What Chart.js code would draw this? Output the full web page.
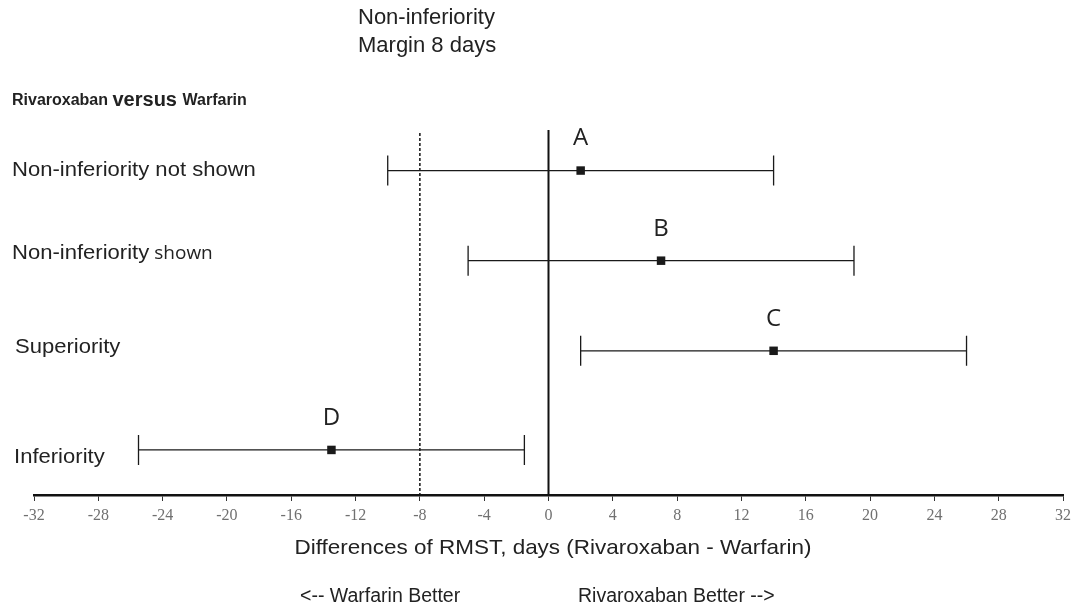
<!DOCTYPE html>
<html>
<head>
<meta charset="utf-8">
<script src="https://cdn.jsdelivr.net/npm/chart.js@4.4.1/dist/chart.umd.min.js"></script>
<style>
  body { margin: 0; background: #fff; }
  #wrap { width: 1076px; height: 608px; position: relative; }
</style>
</head>
<body>
<div id="wrap"><canvas id="forest"></canvas></div>
<script>
// rows, top to bottom
var rowLabels = ["Non-inferiority not shown", "Non-inferiority shown", "Superiority", "Inferiority"];
var rowLetters = ["A", "B", "C", "D"];
var rowPos = [3.6, 2.6, 1.6, 0.5];
var estimates = [2, 7, 14, -13.5];
var lowerCI = [-10, -5, 2, -25.5];
var upperCI = [14, 19, 26, -1.5];
var marginValue = -8;
var xMin = -32, xMax = 32, xStep = 4;

var points = [];
for (var i = 0; i < estimates.length; i++) {
    points.push({ x: estimates[i], y: rowPos[i] });
}

var SANS = "'Liberation Sans', Arial, sans-serif";

// text drawn a bit wider than the font, like the original figure
function wideText(ctx, txt, x, y, sx) {
    ctx.save();
    ctx.translate(x, y);
    ctx.scale(sx, 1);
    ctx.fillText(txt, 0, 0);
    var w = ctx.measureText(txt).width * sx;
    ctx.restore();
    return w;
}

var forestPlugin = {
    id: 'forest',
    beforeDatasetsDraw: function (chart) {
        var ctx = chart.ctx, area = chart.chartArea;
        var xs = chart.scales.x, ys = chart.scales.y;
        ctx.save();
        // zero line
        var x0 = xs.getPixelForValue(0);
        ctx.strokeStyle = '#111';
        ctx.lineWidth = 2;
        ctx.beginPath();
        ctx.moveTo(x0, area.top);
        ctx.lineTo(x0, area.bottom);
        ctx.stroke();
        // non-inferiority margin
        var xm = xs.getPixelForValue(marginValue);
        ctx.setLineDash([3, 2]);
        ctx.lineWidth = 1.5;
        ctx.beginPath();
        ctx.moveTo(xm, area.top + 3);
        ctx.lineTo(xm, area.bottom);
        ctx.stroke();
        ctx.setLineDash([]);
        // confidence intervals
        ctx.strokeStyle = '#1a1a1a';
        ctx.lineWidth = 1.3;
        for (var i = 0; i < estimates.length; i++) {
            var py = ys.getPixelForValue(rowPos[i]);
            var xa = xs.getPixelForValue(lowerCI[i]);
            var xb = xs.getPixelForValue(upperCI[i]);
            ctx.beginPath();
            ctx.moveTo(xa, py); ctx.lineTo(xb, py);
            ctx.moveTo(xa, py - 15); ctx.lineTo(xa, py + 15);
            ctx.moveTo(xb, py - 15); ctx.lineTo(xb, py + 15);
            ctx.stroke();
        }
        ctx.restore();
    },
    afterDraw: function (chart) {
        var ctx = chart.ctx;
        var xs = chart.scales.x, ys = chart.scales.y;
        ctx.save();
        ctx.fillStyle = '#222';
        ctx.textBaseline = 'middle';
        ctx.textAlign = 'left';

        // header
        ctx.font = "22px " + SANS;
        ctx.fillText("Non-inferiority", 358, 18);
        ctx.fillText("Margin 8 days", 358, 46);

        ctx.font = "bold 16px " + SANS;
        ctx.fillText("Rivaroxaban", 12, 101);
        var w = ctx.measureText("Rivaroxaban ").width;
        ctx.font = "bold 20px " + SANS;
        ctx.fillText("versus", 12 + w, 100);
        var w2 = ctx.measureText("versus ").width;
        ctx.font = "bold 16px " + SANS;
        ctx.fillText("Warfarin", 12 + w + w2, 101);

        // row labels
        var labelShift = [0, -7, -4, 7];
        for (var i = 0; i < rowLabels.length; i++) {
            var py = ys.getPixelForValue(rowPos[i]) + labelShift[i];
            var lx = i === 2 ? 15 : (i === 3 ? 14 : 12);
            ctx.font = "21px " + SANS;
            if (i === 1) {
                var ww = wideText(ctx, "Non-inferiority", lx, py, 1.05);
                ctx.font = "19px 'Open Sans', sans-serif";
                ctx.fillText("shown", lx + ww + 5, py);
            } else {
                wideText(ctx, rowLabels[i], lx, py, 1.05);
            }
        }

        // letters above estimates
        ctx.textAlign = 'center';
        ctx.font = "24px 'Open Sans', sans-serif";
        for (var j = 0; j < rowLetters.length; j++) {
            ctx.fillText(rowLetters[j], xs.getPixelForValue(estimates[j]), ys.getPixelForValue(rowPos[j]) - 32);
        }

        // axis title and directions
        ctx.font = "21px " + SANS;
        wideText(ctx, "Differences of RMST, days (Rivaroxaban - Warfarin)", 553, 548, 1.07);
        ctx.textAlign = 'left';
        ctx.font = "19.5px " + SANS;
        ctx.fillText("<-- Warfarin Better", 300, 597);
        ctx.fillText("Rivaroxaban Better -->", 578, 597);
        ctx.restore();
    }
};

var ctx = document.getElementById('forest');
var chart = new Chart(ctx, {
    type: 'scatter',
    data: {
        datasets: [{
            label: 'Estimate',
            data: points,
            pointStyle: 'rect',
            pointRadius: 6,
            pointHoverRadius: 6,
            borderWidth: 0,
            backgroundColor: '#1a1a1a'
        }]
    },
    options: {
        responsive: true,
        maintainAspectRatio: false,
        animation: false,
        events: [],
        layout: { padding: { left: 34, right: 12, top: 130, bottom: 73 } },
        plugins: {
            legend: { display: false },
            tooltip: { enabled: false }
        },
        scales: {
            x: {
                type: 'linear',
                min: xMin,
                max: xMax,
                afterFit: function (axis) { axis.height = 40; },
                border: { display: true, color: '#111', width: 2.5 },
                grid: { drawOnChartArea: false, drawTicks: true, tickLength: 6, color: '#333', lineWidth: 1 },
                ticks: {
                    stepSize: xStep,
                    padding: 5,
                    color: '#707070',
                    font: { family: "'Liberation Serif', 'Times New Roman', serif", size: 16 }
                }
            },
            y: {
                type: 'linear',
                display: false,
                min: 0,
                max: 4.05
            }
        }
    },
    plugins: [forestPlugin]
});
</script>
</body>
</html>
